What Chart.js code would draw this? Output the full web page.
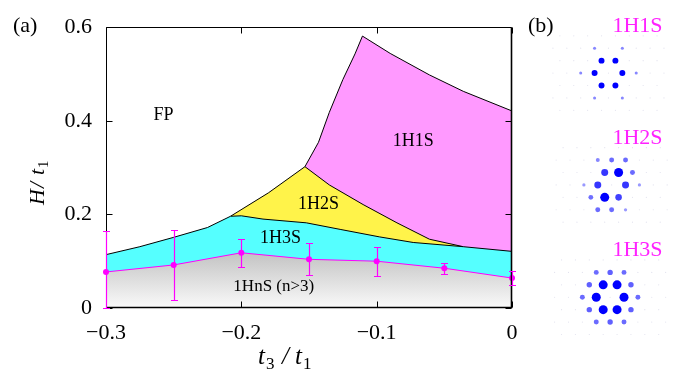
<!DOCTYPE html>
<html><head><meta charset="utf-8">
<script src="https://cdn.jsdelivr.net/npm/chart.js@4.4.0/dist/chart.umd.min.js"></script>
<style>
html,body{margin:0;padding:0;background:#fff;}
#wrap{position:relative;width:681px;height:370px;overflow:hidden;background:#fff;}
#ca{position:absolute;left:0;top:0;}
#cb{position:absolute;left:520px;top:0;}
.pre{position:absolute;left:-999px;top:0;font-family:"Liberation Serif";}
</style></head><body>
<span class="pre">a</span><span class="pre" style="font-style:italic">a</span>
<div id="wrap"><canvas id="ca" width="681" height="370"></canvas><canvas id="cb" width="161" height="370"></canvas></div>
<script>
// ================= DATA : panel (a) =================
const xTicks = [-0.3, -0.2, -0.1, 0];
const xTickLabels = ['\u22120.3', '\u22120.2', '\u22120.1', '0'];
const yTicks = [0, 0.2, 0.4, 0.6];
const yTickLabels = ['0', '0.2', '0.4', '0.6'];

// 1HnS (n>3) / 1H3S transition with error bars
const t3Err = [-0.3, -0.25, -0.2, -0.15, -0.1, -0.05, 0];
const hnsH  = [0.077, 0.092, 0.118, 0.104, 0.100, 0.085, 0.064];
const hnsLo = [0.000, 0.017, 0.088, 0.070, 0.068, 0.073, 0.049];
const hnsHi = [0.165, 0.166, 0.147, 0.138, 0.131, 0.096, 0.079];

// upper boundary of 1H3S
const b3T = [-0.3, -0.275, -0.25, -0.225, -0.208, -0.2, -0.184, -0.152, -0.127, -0.098, -0.073, -0.036, 0];
const b3H = [0.114, 0.131, 0.151, 0.172, 0.196, 0.197, 0.190, 0.182, 0.168, 0.152, 0.140, 0.131, 0.121];

// upper boundary of 1H2S
const b2T = [-0.208, -0.18, -0.153, -0.135, -0.110, -0.085, -0.061, -0.036];
const b2H = [0.196, 0.246, 0.302, 0.263, 0.221, 0.182, 0.147, 0.131];

// upper boundary of 1H1S
const b1T = [-0.153, -0.143, -0.135, -0.125, -0.116, -0.1105, -0.090, -0.061, -0.036, 0];
const b1H = [0.302, 0.354, 0.418, 0.488, 0.543, 0.581, 0.544, 0.498, 0.463, 0.421];

// phase names and where they sit (t3/t1, H/t1)
const phaseNames = ['FP', '1H1S', '1H2S', '1H3S', '1HnS (n>3)'];
const phaseT = [-0.2575, -0.073, -0.143, -0.171, -0.176];
const phaseH = [0.411, 0.356, 0.222, 0.150, 0.0465];

// ================= DATA : panel (b) =================
const insetNames = ['1H1S', '1H2S', '1H3S'];
// spot intensities on the triangular lattice: [m, n, intensity]
const spots1H1S = [[1,0,0.58],[0,1,0.58],[-1,1,0.58],[-1,0,0.58],[0,-1,0.58],[1,-1,0.58],
  [2,0,0.17],[0,2,0.17],[-2,2,0.17],[-2,0,0.17],[0,-2,0.17],[2,-2,0.17]];
const spots1H2S = [[0,1,1.0],[0,-1,1.0],[-1,1,0.72],[-1,0,0.72],[1,0,0.72],[1,-1,0.66],
  [1,1,0.44],[-1,2,0.44],[-1,-1,0.42],[1,-2,0.44],[0,2,0.44],[0,-2,0.44],
  [-2,2,0.30],[2,0,0.20],[-2,0,0.20],[2,-2,0.20]];
const spots1H3S = [[1,0,1],[0,1,1],[-1,1,1],[-1,0,1],[0,-1,1],[1,-1,1],
  [1,1,0.5],[-1,2,0.5],[-2,1,0.5],[-1,-1,0.5],[1,-2,0.5],[2,-1,0.5],
  [2,0,0.44],[0,2,0.44],[-2,2,0.44],[-2,0,0.44],[0,-2,0.44],[2,-2,0.44]];
const latticeRows = [-3, -2, -1, 0, 1, 2, 3];

// ================= PANEL (a) =================
const SERIF = '"Liberation Serif", "Times New Roman", Times, serif';
const pts = (xs, ys) => xs.map((v, i) => ({x: v, y: ys[i]}));

const framePlugin = {
  id: 'frame',
  afterDatasetsDraw(chart) {
    const {ctx, chartArea: a, scales: {x, y}} = chart;
    const L = Math.floor(a.left) + 0.5, R = Math.floor(a.right) - 0.5, T = Math.floor(a.top) + 0.5, B = Math.floor(a.bottom) - 0.5;
    ctx.save();
    ctx.strokeStyle = '#000';
    ctx.lineWidth = 1;
    ctx.beginPath();
    ctx.moveTo(L, B); ctx.lineTo(L, T); ctx.lineTo(R, T);
    ctx.stroke();
    ctx.lineWidth = 1.6;
    ctx.beginPath();
    ctx.moveTo(R, T); ctx.lineTo(R, B); ctx.lineTo(L, B);
    ctx.stroke();
    ctx.lineWidth = 1;
    ctx.beginPath();
    xTicks.forEach(v => {
      const px = Math.round(x.getPixelForValue(v)) + 0.5;
      ctx.moveTo(px, B); ctx.lineTo(px, B - 6);
      ctx.moveTo(px, T); ctx.lineTo(px, T + 6);
    });
    yTicks.forEach(v => {
      const py = Math.round(y.getPixelForValue(v)) + 0.5;
      ctx.moveTo(L, py); ctx.lineTo(L + 6, py);
      ctx.moveTo(R, py); ctx.lineTo(R - 6, py);
    });
    ctx.stroke();
    ctx.restore();
  }
};

const errorBarPlugin = {
  id: 'errbars',
  afterDatasetsDraw(chart) {
    const {ctx, scales: {x, y}} = chart;
    ctx.save();
    ctx.strokeStyle = '#ff00ff';
    ctx.lineWidth = 1.2;
    t3Err.forEach((t, i) => {
      const px = Math.round(x.getPixelForValue(t)) + 0.5;
      const pl = Math.round(y.getPixelForValue(hnsLo[i])) + 0.5, ph = Math.round(y.getPixelForValue(hnsHi[i])) + 0.5;
      ctx.beginPath();
      ctx.moveTo(px, pl); ctx.lineTo(px, ph);
      ctx.moveTo(px - 3.5, pl); ctx.lineTo(px + 3.5, pl);
      ctx.moveTo(px - 3.5, ph); ctx.lineTo(px + 3.5, ph);
      ctx.stroke();
    });
    ctx.restore();
  }
};

const textPlugin = {
  id: 'texts',
  afterDraw(chart) {
    const {ctx, chartArea: a, scales: {x, y}} = chart;
    ctx.save();
    ctx.fillStyle = '#000';
    ctx.font = '22px ' + SERIF;
    ctx.textAlign = 'left'; ctx.textBaseline = 'middle';
    ctx.fillText('(a)', 13, 26.5);
    ctx.textAlign = 'center';
    phaseNames.forEach((nm, i) => {
      ctx.font = (i === 4 ? '17px ' : '18px ') + SERIF;
      ctx.fillText(nm, x.getPixelForValue(phaseT[i]), y.getPixelForValue(phaseH[i]));
    });
    // x-axis title  t3/t1
    ctx.textAlign = 'left'; ctx.textBaseline = 'alphabetic';
    const xb = 364, x0 = 258;
    ctx.font = 'italic 25px ' + SERIF; ctx.fillText('t', x0, xb);
    ctx.font = '17px ' + SERIF; ctx.fillText('3', x0 + 8, xb + 5);
    ctx.font = 'italic 25px ' + SERIF; ctx.fillText('/', x0 + 24, xb);
    ctx.fillText('t', x0 + 37, xb);
    ctx.font = '17px ' + SERIF; ctx.fillText('1', x0 + 45, xb + 5);
    // y-axis title  H/t1 (rotated)
    ctx.translate(44, 205);
    ctx.rotate(-Math.PI / 2);
    ctx.font = 'italic 22px ' + SERIF; ctx.fillText('H', 0, 0);
    ctx.fillText('/', 17, 0);
    ctx.fillText('t', 30, 0);
    ctx.font = '15px ' + SERIF; ctx.fillText('1', 37, 4);
    ctx.restore();
  }
};

// ================= PANEL (b) =================
const A_PX = 14.7;                       // lattice spacing in pixels
const insetCX = [6.05, 6.28, 6.17];      // inset centres (lattice units)
const insetCY = [20.39, 12.59, 4.76];
const S3 = Math.sqrt(3) / 2;

function spotData(spots, k) {
  const maxI = Math.max(...spots.map(s => s[2]));
  return spots.map(([m, n, I]) => ({
    x: insetCX[k] + m + n / 2, y: insetCY[k] + n * S3,
    r: 0.9 + 3.6 * I, w: (1 - I / maxI) * 0.75
  }));
}
function latticeData() {
  const out = [];
  for (let k = 0; k < 3; k++) {
    latticeRows.forEach(n => {
      for (let m = -8; m <= 8; m++) {
        const dx = m + n / 2;
        if (Math.abs(dx) <= 4.05) out.push({x: insetCX[k] + dx, y: insetCY[k] + n * S3, r: 0.6});
      }
    });
  }
  return out;
}
const spotColour = c => { const v = Math.round(255 * (c.raw ? c.raw.w : 0)); return `rgb(${v},${v},255)`; };

const insetTextPlugin = {
  id: 'insetTexts',
  afterDraw(chart) {
    const {ctx, scales: {x, y}} = chart;
    ctx.save();
    ctx.font = '22px ' + SERIF;
    ctx.textBaseline = 'middle';
    ctx.textAlign = 'left';
    ctx.fillStyle = '#000';
    ctx.fillText('(b)', 8, 26);
    ctx.fillStyle = '#ff22ff';
    ctx.textAlign = 'center';
    insetNames.forEach((nm, k) => {
      ctx.fillText(nm, 117.5, y.getPixelForValue(insetCY[k]) - 47);
    });
    ctx.restore();
  }
};

function build() {
  new Chart(document.getElementById('ca').getContext('2d'), {
    type: 'line',
    data: {
      datasets: [
        { data: pts(b1T, b1H), borderColor: '#000', borderWidth: 1, pointRadius: 0,
          fill: 'origin', backgroundColor: '#ff99ff', tension: 0, order: 4 },
        { data: pts(b2T, b2H), borderColor: '#000', borderWidth: 1, pointRadius: 0,
          fill: 'origin', backgroundColor: '#fff34a', tension: 0, order: 3 },
        { data: pts(b3T, b3H), borderColor: '#000', borderWidth: 1, pointRadius: 0,
          fill: 'origin', backgroundColor: '#55ffff', tension: 0, order: 2 },
        { data: pts(t3Err, hnsH), borderColor: '#ff00ff', borderWidth: 1,
          pointRadius: 3, pointBackgroundColor: '#ff00ff', pointBorderWidth: 0, pointHoverRadius: 3,
          fill: 'origin', tension: 0, order: 1, clip: false,
          backgroundColor: (c) => {
            const ch = c.chart;
            if (!ch.chartArea) return '#dddddd';
            const ys = ch.scales.y;
            const g = ch.ctx.createLinearGradient(0, ys.getPixelForValue(0.12), 0, ys.getPixelForValue(0));
            g.addColorStop(0, '#c2c2c2');
            g.addColorStop(1, '#fafafa');
            return g;
          } }
      ]
    },
    options: {
      responsive: false, animation: false, events: [],
      layout: { padding: { left: 0, top: 24, right: 169, bottom: 0 } },
      plugins: { legend: { display: false }, tooltip: { enabled: false } },
      scales: {
        x: {
          type: 'linear', min: -0.3, max: 0,
          afterBuildTicks: s => { s.ticks = xTicks.map(v => ({value: v})); },
          afterFit: s => { s.height = 62; },
          ticks: { callback: (v, i) => xTickLabels[i], font: {family: SERIF, size: 22}, color: '#000', padding: 12, maxRotation: 0, autoSkip: false },
          grid: { display: false, drawTicks: false }, border: { display: false }
        },
        y: {
          type: 'linear', min: 0, max: 0.6,
          afterBuildTicks: s => { s.ticks = yTicks.map(v => ({value: v})); },
          afterFit: s => { s.width = 106; },
          ticks: { callback: (v, i) => yTickLabels[i], font: {family: SERIF, size: 22}, color: '#000', padding: 14, autoSkip: false },
          grid: { display: false, drawTicks: false }, border: { display: false }
        }
      }
    },
    plugins: [framePlugin, errorBarPlugin, textPlugin]
  });

  new Chart(document.getElementById('cb').getContext('2d'), {
    type: 'bubble',
    data: {
      datasets: [
        { data: latticeData(), backgroundColor: '#e2e2ee', borderWidth: 0, order: 5 },
        { data: spotData(spots1H1S, 0), backgroundColor: spotColour, borderWidth: 0, order: 1 },
        { data: spotData(spots1H2S, 1), backgroundColor: spotColour, borderWidth: 0, order: 1 },
        { data: spotData(spots1H3S, 2), backgroundColor: spotColour, borderWidth: 0, order: 1 }
      ]
    },
    options: {
      responsive: false, animation: false, events: [],
      layout: { padding: 0 },
      plugins: { legend: { display: false }, tooltip: { enabled: false } },
      scales: {
        x: { type: 'linear', display: false, min: 0, max: 161 / A_PX },
        y: { type: 'linear', display: false, min: 0, max: 370 / A_PX }
      }
    },
    plugins: [insetTextPlugin]
  });
}

Promise.all([
  document.fonts.load('22px "Liberation Serif"'),
  document.fonts.load('italic 22px "Liberation Serif"')
]).then(build, build);
</script>
</body></html>
